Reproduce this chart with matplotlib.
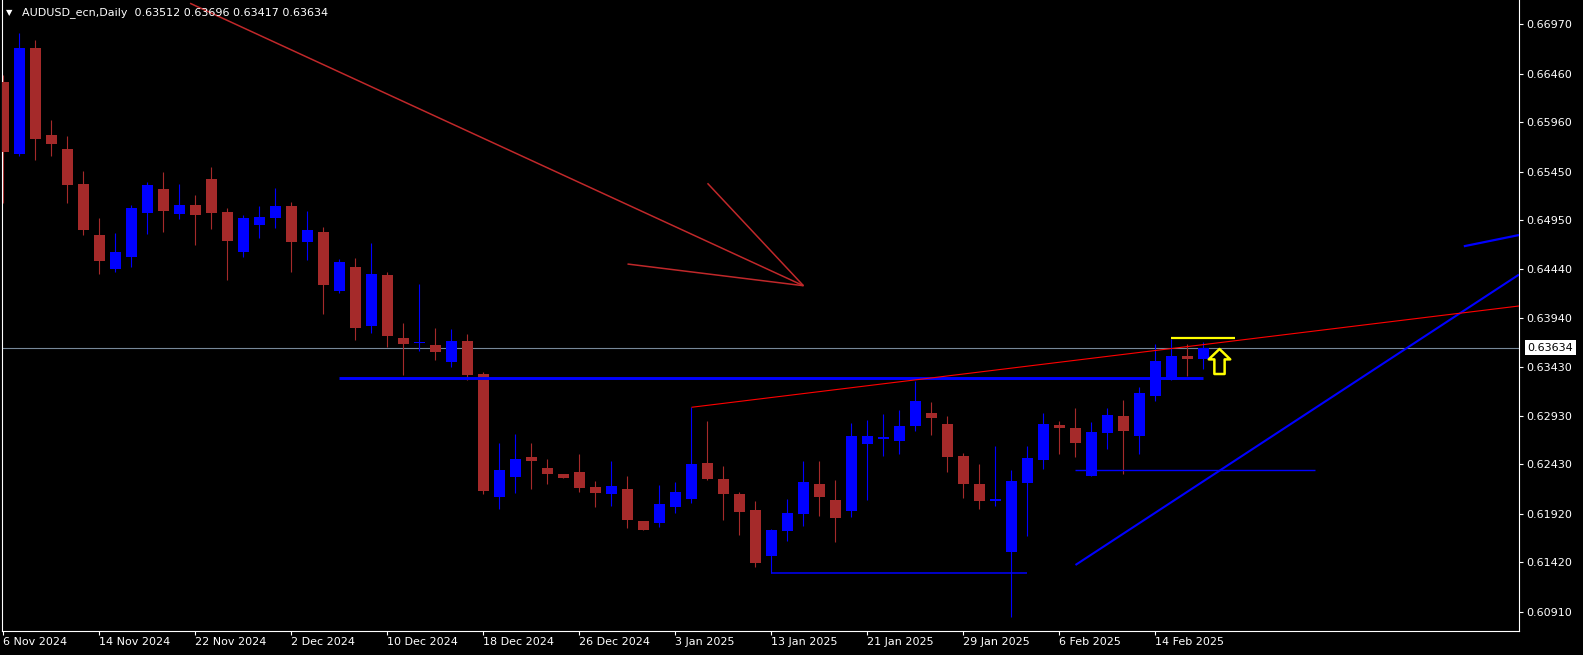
import matplotlib.pyplot as plt
from matplotlib.path import Path
from matplotlib.transforms import blended_transform_factory

# daily bars, 6 Nov 2024 .. 19 Feb 2025 (bar index = trading day)
opens = [
    0.66377, 0.65634, 0.66728, 0.65827, 0.65682, 0.65321, 0.64795, 0.64448, 0.64568, 0.65025,
    0.65270, 0.65015, 0.65105, 0.65373, 0.65032, 0.64623, 0.64898, 0.64974, 0.65094, 0.64726,
    0.64826, 0.64220, 0.64465, 0.63860, 0.64382, 0.63733, 0.63676, 0.63660, 0.63488, 0.63702,
    0.63364, 0.62095, 0.62302, 0.62505, 0.62391, 0.62329, 0.62350, 0.62195, 0.62126, 0.62175,
    0.61844, 0.61827, 0.61992, 0.62075, 0.62443, 0.62278, 0.62123, 0.61958, 0.61487, 0.61744,
    0.61920, 0.62226, 0.62061, 0.61951, 0.62642, 0.62694, 0.62673, 0.62828, 0.62959, 0.62845,
    0.62518, 0.62229, 0.62054, 0.61528, 0.62240, 0.62477, 0.62835, 0.62804, 0.62312, 0.62756,
    0.62928, 0.62725, 0.63137, 0.63302, 0.63544, 0.63512]
highs = [
    0.66446, 0.66882, 0.66807, 0.65982, 0.65817, 0.65455, 0.64971, 0.64816, 0.65105, 0.65342,
    0.65445, 0.65325, 0.65208, 0.65497, 0.65074, 0.65002, 0.65094, 0.65280, 0.65136, 0.65046,
    0.64878, 0.64548, 0.64558, 0.64713, 0.64413, 0.63887, 0.64290, 0.63836, 0.63825, 0.63777,
    0.63385, 0.62649, 0.62742, 0.62649, 0.62484, 0.62330, 0.62536, 0.62257, 0.62464, 0.62309,
    0.61847, 0.62216, 0.62247, 0.63018, 0.62876, 0.62412, 0.62147, 0.62051, 0.61762, 0.62072,
    0.62464, 0.62464, 0.62268, 0.62856, 0.62887, 0.62949, 0.62990, 0.63292, 0.63072, 0.62928,
    0.62546, 0.62436, 0.62621, 0.62371, 0.62621, 0.62959, 0.62876, 0.63010, 0.62866, 0.63010,
    0.63093, 0.63227, 0.63674, 0.63725, 0.63674, 0.63696]
lows = [
    0.65125, 0.65613, 0.65569, 0.65613, 0.65128, 0.64798, 0.64396, 0.64417, 0.64465, 0.64809,
    0.64829, 0.64960, 0.64695, 0.64860, 0.64334, 0.64571, 0.64767, 0.64870, 0.64417, 0.64540,
    0.63983, 0.64200, 0.63715, 0.63787, 0.63643, 0.63354, 0.63601, 0.63509, 0.63436, 0.63302,
    0.62126, 0.61971, 0.62136, 0.62178, 0.62229, 0.62290, 0.62147, 0.61992, 0.62002, 0.61775,
    0.61752, 0.61786, 0.61930, 0.62033, 0.62268, 0.61858, 0.61703, 0.61373, 0.61311, 0.61641,
    0.61796, 0.61899, 0.61631, 0.61889, 0.62061, 0.62518, 0.62539, 0.62773, 0.62735, 0.62353,
    0.62085, 0.61971, 0.62002, 0.60857, 0.61693, 0.62384, 0.62539, 0.62508, 0.62312, 0.62590,
    0.62333, 0.62539, 0.63086, 0.63302, 0.63344, 0.63417]
closes = [
    0.65655, 0.66728, 0.65789, 0.65737, 0.65314, 0.64850, 0.64530, 0.64620, 0.65074, 0.65311,
    0.65046, 0.65105, 0.65005, 0.65025, 0.64736, 0.64971, 0.64981, 0.65094, 0.64726, 0.64850,
    0.64282, 0.64517, 0.63839, 0.64393, 0.63756, 0.63674, 0.63679, 0.63591, 0.63702, 0.63354,
    0.62157, 0.62371, 0.62484, 0.62467, 0.62333, 0.62291, 0.62188, 0.62136, 0.62209, 0.61858,
    0.61755, 0.62020, 0.62144, 0.62433, 0.62281, 0.62126, 0.61940, 0.61414, 0.61752, 0.61927,
    0.62247, 0.62095, 0.61879, 0.62722, 0.62722, 0.62714, 0.62825, 0.63083, 0.62910, 0.62508,
    0.62229, 0.62054, 0.62075, 0.62257, 0.62494, 0.62845, 0.62807, 0.62652, 0.62763, 0.62938,
    0.62776, 0.63165, 0.63495, 0.63547, 0.63519, 0.63634]

label_bars = [0, 6, 12, 18, 24, 30, 36, 42, 48, 54, 60, 66, 72]
date_labels = ["6 Nov 2024", "14 Nov 2024", "22 Nov 2024", "2 Dec 2024", "10 Dec 2024",
               "18 Dec 2024", "26 Dec 2024", "3 Jan 2025", "13 Jan 2025", "21 Jan 2025",
               "29 Jan 2025", "6 Feb 2025", "14 Feb 2025"]
price_ticks = [0.66970, 0.66460, 0.65960, 0.65450, 0.64950, 0.64440, 0.63940,
               0.63430, 0.62930, 0.62430, 0.61920, 0.61420, 0.60910]
bid = 0.63634
title = "AUDUSD_ecn,Daily  0.63512 0.63696 0.63417 0.63634"

# drawn objects: (bar, price) end points
support_main = [(21, 0.63325), (75, 0.63325)]
support_low = [(48, 0.61311), (64, 0.61311)]
support_feb = [(67, 0.62368), (82, 0.62368)]
rising_line = [(67, 0.61391), (94.72, 0.64387)]
rising_short = [(91.27, 0.64679), (94.72, 0.64795)]
upper_red = [(43, 0.63018), (94.72, 0.64063)]
arrow_body = [(11.66, 0.67186), (50, 0.64272)]
arrow_head1 = [(44, 0.65329), (50, 0.64272)]
arrow_head2 = [(39, 0.64496), (50, 0.64272)]
yellow_top = [(73, 0.63736), (77, 0.63736)]
up_arrow_at = (76, 0.63500)

BULL = "#0000FF"
BEAR = "#A52A2A"

fig = plt.figure(figsize=(15.83, 6.55), dpi=100, facecolor="black")
ax = fig.add_axes([2.3 / 1583, 24 / 655, 1516.7 / 1583, 631 / 655])
ax.set_facecolor("black")
ax.set_xlim(-0.075, 94.72)
ax.set_ylim(0.60710, 0.672197)

# candles
idx = list(range(len(opens)))
colors = [BULL if c >= o else BEAR for o, c in zip(opens, closes)]
ax.vlines(idx, lows, highs, colors=colors, linewidth=0.8, zorder=2)
bottoms = [min(o, c) for o, c in zip(opens, closes)]
heights = [max(abs(c - o), 0.00012) for o, c in zip(opens, closes)]
ax.bar(idx, heights, bottom=bottoms, width=0.69, color=colors, linewidth=0, zorder=3)

# bid line
ax.axhline(bid, color="#778899", linewidth=0.8, zorder=1)


def seg(pts, **kw):
    ax.plot([p[0] for p in pts], [p[1] for p in pts], solid_capstyle="butt", **kw)


seg(support_main, color=BULL, linewidth=2.1, zorder=4)
seg(support_low, color=BULL, linewidth=1.1, zorder=4)
seg(support_feb, color=BULL, linewidth=1.0, zorder=4)
seg(rising_line, color=BULL, linewidth=1.5, zorder=4)
seg(rising_short, color=BULL, linewidth=1.6, zorder=4)
seg(upper_red, color="#FF0000", linewidth=0.8, zorder=5)
for pts in (arrow_body, arrow_head1, arrow_head2):
    seg(pts, color="#C0282A", linewidth=1.1, zorder=5)
seg(yellow_top, color="#FFFF00", linewidth=1.6, zorder=5)

# hollow up arrow (Wingdings style)
verts = [(0, 1), (0.86, 0.17), (0.41, 0.17), (0.41, -1), (-0.41, -1),
         (-0.41, 0.17), (-0.86, 0.17), (0, 1)]
arrow_marker = Path(verts, [Path.MOVETO] + [Path.LINETO] * 6 + [Path.CLOSEPOLY])
ax.plot(*up_arrow_at, marker=arrow_marker, markersize=18, markerfacecolor="black",
        markeredgecolor="#FFFF00", markeredgewidth=1.8, zorder=7)

# axes styling
for side in ("left", "bottom", "right"):
    ax.spines[side].set_color("white")
    ax.spines[side].set_linewidth(0.8)
ax.spines["top"].set_visible(False)

ax.yaxis.tick_right()
ax.set_yticks(price_ticks)
ax.set_yticklabels([f"{p:.5f}" for p in price_ticks])
ax.tick_params(axis="y", colors="white", labelcolor="white", labelsize=8,
               length=3, width=0.8, pad=2.5)
ax.set_xticks(label_bars)
ax.set_xticklabels(date_labels, ha="left")
ax.tick_params(axis="x", colors="white", labelcolor="white", labelsize=8,
               length=3, width=0.8, pad=1.5)

# current price box on the scale
trans = blended_transform_factory(ax.transAxes, ax.transData)
ax.text(1.0055, bid, f"{bid:.5f}", transform=trans, color="black", fontsize=8,
        va="center", ha="left", zorder=10, clip_on=False,
        bbox=dict(boxstyle="square,pad=0.22", facecolor="white", edgecolor="none"))

# chart caption
fig.text(6 / 1583, 1 - 12.5 / 655, "\u25bc", color="white", fontsize=6, va="center")
fig.text(21.5 / 1583, 1 - 12.5 / 655, title, color="white", fontsize=8, va="center")

fig.savefig("out.png", dpi=100, facecolor="black")
